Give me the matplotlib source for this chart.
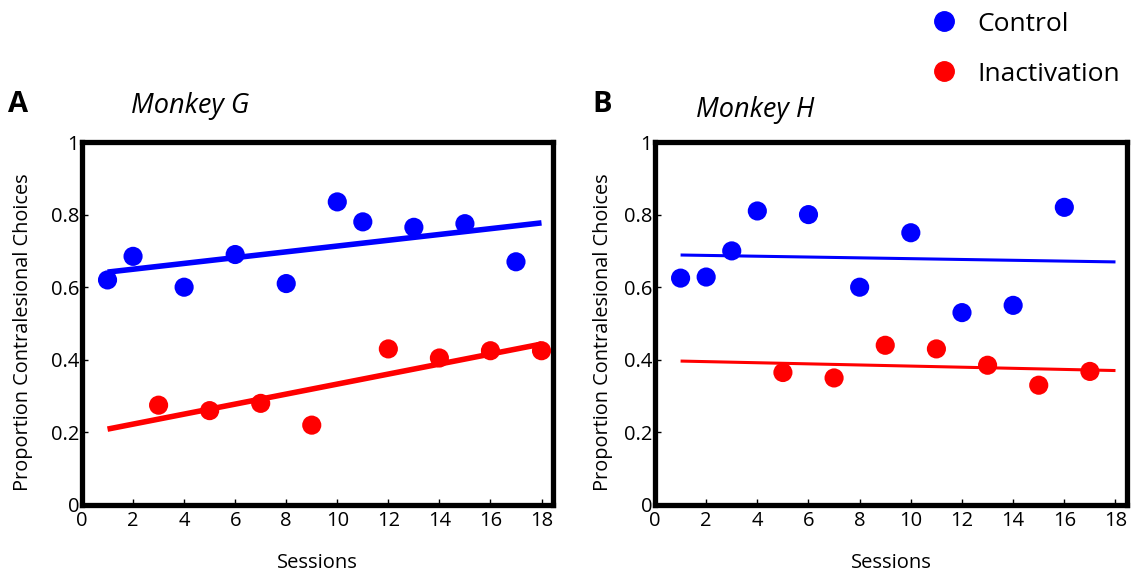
import numpy as np
import matplotlib
matplotlib.use("Agg")
import matplotlib.pyplot as plt
from matplotlib.lines import Line2D

plt.rcParams['font.family'] = ['Open Sans', 'DejaVu Sans']

# Monkey G
g_ctrl_x = [1, 2, 4, 6, 8, 10, 11, 13, 15, 17]
g_ctrl_y = [0.62, 0.685, 0.60, 0.69, 0.61, 0.835, 0.78, 0.765, 0.775, 0.67]
g_inact_x = [3, 5, 7, 9, 12, 14, 16, 18]
g_inact_y = [0.275, 0.26, 0.28, 0.22, 0.43, 0.405, 0.425, 0.425]

# Monkey H
h_ctrl_x = [1, 2, 3, 4, 6, 8, 10, 12, 14, 16]
h_ctrl_y = [0.625, 0.628, 0.70, 0.81, 0.80, 0.60, 0.75, 0.53, 0.55, 0.82]
h_inact_x = [5, 7, 9, 11, 13, 15, 17]
h_inact_y = [0.365, 0.35, 0.44, 0.43, 0.385, 0.33, 0.368]

x_ticks = [0, 2, 4, 6, 8, 10, 12, 14, 16, 18]
y_ticks = [0, 0.2, 0.4, 0.6, 0.8, 1]
ctrl_color = '#0000ff'
inact_color = '#ff0000'

fig = plt.figure(figsize=(11.31, 5.72), dpi=100)
W, H = 1131, 572

def make_ax(left, right, top, bottom):
    return fig.add_axes([left / W, 1 - bottom / H, (right - left) / W, (bottom - top) / H])

axA = make_ax(82, 553, 142, 505)
axB = make_ax(655, 1127, 142, 505)

panels = [
    (axA, g_ctrl_x, g_ctrl_y, g_inact_x, g_inact_y, 4.0, -0.103),
    (axB, h_ctrl_x, h_ctrl_y, h_inact_x, h_inact_y, 2.2, -0.089),
]

for ax, cx, cy, ix, iy, lw, ylx in panels:
    for xs, ys, col in [(cx, cy, ctrl_color), (ix, iy, inact_color)]:
        p = np.polyfit(xs, ys, 1)
        xl = np.array([1, 18])
        ax.plot(xl, np.polyval(p, xl), color=col, lw=lw, solid_capstyle='butt', zorder=2)
        ax.scatter(xs, ys, s=190, color=col, edgecolors='none', zorder=3)
    ax.set_xlim(0, 18.45)
    ax.set_ylim(0, 1)
    ax.set_xticks(x_ticks)
    ax.set_yticks(y_ticks)
    ax.set_xticklabels([f"{t:g}" for t in x_ticks])
    ax.set_yticklabels([f"{t:g}" for t in y_ticks])
    ax.tick_params(axis='both', direction='in', length=4, width=1, labelsize=14.5,
                   top=False, right=False)
    ax.tick_params(axis='x', pad=4)
    ax.tick_params(axis='y', pad=2)
    for s in ax.spines.values():
        s.set_linewidth(3.8)
    ax.set_xlabel("Sessions", fontsize=14.5, labelpad=16)
    ax.set_ylabel("Proportion Contralesional Choices", fontsize=14.3)
    ax.yaxis.set_label_coords(ylx, 0.477)

fig.text(8 / W, 1 - 104 / H, "A", fontsize=21, fontweight='bold', va='center', ha='left')
fig.text(592 / W, 1 - 104 / H, "B", fontsize=21, fontweight='bold', va='center', ha='left')
fig.text(190 / W, 1 - 106 / H, "Monkey G", fontsize=19.5, style='italic', va='center', ha='center')
fig.text(755 / W, 1 - 110 / H, "Monkey H", fontsize=19.5, style='italic', va='center', ha='center')

handles = [
    Line2D([], [], marker='o', ls='none', color=ctrl_color, markersize=14),
    Line2D([], [], marker='o', ls='none', color=inact_color, markersize=14),
]
fig.legend(handles, ["Control", "Inactivation"], loc='upper left',
           bbox_to_anchor=(907 / W, 1 - 1 / H), frameon=False, fontsize=19,
           labelspacing=0.95, handletextpad=0.25, borderaxespad=0)

fig.savefig("out.png", dpi=100)
